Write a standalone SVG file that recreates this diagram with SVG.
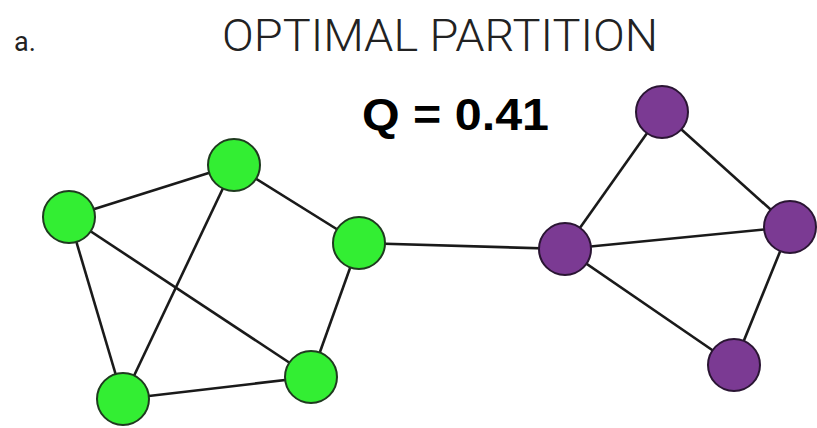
<svg xmlns="http://www.w3.org/2000/svg" width="817" height="428" viewBox="0 0 817 428">
<style>
.e{stroke:#1a1a1a;stroke-width:2.6;fill:none}
.g{fill:#33ee33;stroke:#1f3a1f;stroke-width:2}
.p{fill:#7b3a93;stroke:#2a1533;stroke-width:2}
.t{font-family:Roboto,"Liberation Sans",sans-serif;font-weight:300;fill:#222}
.q{font-family:"Liberation Sans",Arial,sans-serif;font-weight:bold;fill:#000}
</style>
<rect width="817" height="428" fill="#fff"/>
<text class="t" x="14" y="51" font-size="27" style="font-weight:400">a.</text>
<text class="t" x="222" y="51" font-size="44" textLength="436" lengthAdjust="spacingAndGlyphs">OPTIMAL PARTITION</text>
<text class="q" x="362" y="130" font-size="45" textLength="187" lengthAdjust="spacingAndGlyphs">Q = 0.41</text>
<g id="edges">
<line class="e" x1="69" y1="217" x2="234" y2="165"/>
<line class="e" x1="69" y1="217" x2="123" y2="399"/>
<line class="e" x1="69" y1="217" x2="311" y2="377"/>
<line class="e" x1="234" y1="165" x2="359" y2="243"/>
<line class="e" x1="234" y1="165" x2="123" y2="399"/>
<line class="e" x1="359" y1="243" x2="311" y2="377"/>
<line class="e" x1="123" y1="399" x2="311" y2="377"/>
<line class="e" x1="359" y1="243" x2="565" y2="249"/>
<line class="e" x1="565" y1="249" x2="662" y2="112"/>
<line class="e" x1="662" y1="112" x2="790" y2="227"/>
<line class="e" x1="565" y1="249" x2="790" y2="227"/>
<line class="e" x1="565" y1="249" x2="734" y2="365"/>
<line class="e" x1="790" y1="227" x2="734" y2="365"/>
</g>
<g id="g1"><circle class="g" cx="69" cy="217" r="26"/></g>
<g id="g2"><circle class="g" cx="234" cy="165" r="26"/></g>
<g id="g3"><circle class="g" cx="359" cy="243" r="26"/></g>
<g id="g4"><circle class="g" cx="311" cy="377" r="26"/></g>
<g id="g5"><circle class="g" cx="123" cy="399" r="26"/></g>
<g id="p1"><circle class="p" cx="662" cy="112" r="26"/></g>
<g id="p2"><circle class="p" cx="790" cy="227" r="26"/></g>
<g id="p3"><circle class="p" cx="565" cy="249" r="26"/></g>
<g id="p4"><circle class="p" cx="734" cy="365" r="26"/></g>
</svg>
